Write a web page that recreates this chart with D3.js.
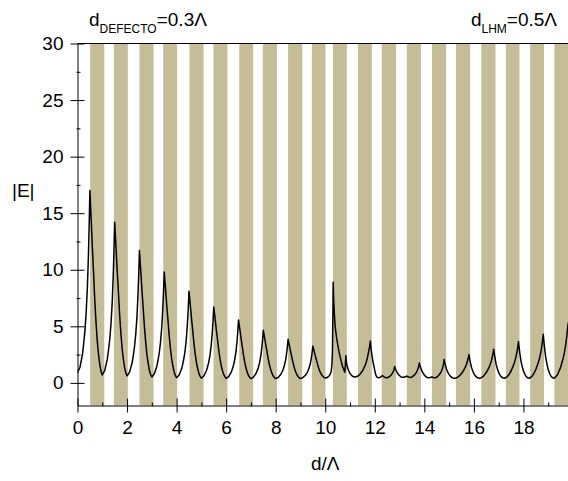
<!DOCTYPE html>
<html>
<head>
<meta charset="utf-8">
<script src="https://cdn.jsdelivr.net/npm/d3@7/dist/d3.min.js"></script>
<style>
  html, body { margin: 0; padding: 0; background: #fff; overflow: hidden; }
  svg { display: block; font-family: "Liberation Sans", Arial, Helvetica, sans-serif; }
</style>
</head>
<body>
<svg id="chart" width="568" height="481"></svg>
<script>
// ---- data ---------------------------------------------------------------
const xTicks = [0, 2, 4, 6, 8, 10, 12, 14, 16, 18];
const xMinorTicks = [1, 3, 5, 7, 9, 11, 13, 15, 17, 19];
const yTicks = [0, 5, 10, 15, 20, 25, 30];
const yMinorTicks = [2.5, 7.5, 12.5, 17.5, 22.5, 27.5];

// LHM layers (in units of the period Λ); a 0.3Λ defect shifts the stack after x≈10
const layerStart = [0.51, 1.47, 2.50, 3.46, 4.52, 5.49, 6.53, 7.48, 8.50, 9.46,
                    10.31, 11.32, 12.28, 13.29, 14.31, 15.28, 16.30, 17.29, 18.27, 19.25];
const layerEnd   = [1.08, 2.03, 3.07, 4.02, 5.09, 6.05, 7.09, 8.05, 9.07, 10.01,
                    10.87, 11.88, 12.86, 13.86, 14.88, 15.85, 16.87, 17.84, 18.83, 19.82];

// |E| along the structure, before the defect  [d/Λ, |E|]
const fieldBefore = [
  [0,0.9],[0.1,1.38],[0.2,2.51],[0.25,3.48],[0.3,4.6],[0.35,6.21],[0.4,8.47],[0.44,11.2],[0.47,13.78],[0.5,17.0],
  [0.53,15.53],[0.56,14.07],[0.6,11.95],[0.65,9.67],[0.7,7.22],[0.75,5.26],[0.8,3.63],[0.85,2.49],[0.9,1.6],[0.95,1.03],[1.0,0.7],
  [1.1,1.11],[1.2,2.05],[1.25,2.86],[1.3,3.81],[1.35,5.16],[1.4,7.05],[1.44,9.34],[1.47,11.5],[1.5,14.2],
  [1.53,12.98],[1.56,11.76],[1.6,9.99],[1.65,8.09],[1.7,6.05],[1.75,4.42],[1.8,3.06],[1.85,2.11],[1.9,1.37],[1.95,0.89],[2.0,0.62],
  [2.1,0.95],[2.2,1.73],[2.25,2.39],[2.3,3.17],[2.35,4.28],[2.4,5.83],[2.44,7.71],[2.47,9.48],[2.5,11.7],
  [2.53,10.69],[2.56,9.69],[2.6,8.23],[2.65,6.67],[2.7,4.99],[2.75,3.65],[2.8,2.53],[2.85,1.75],[2.9,1.13],[2.95,0.74],[3.0,0.52],
  [3.1,0.8],[3.2,1.45],[3.25,2.0],[3.3,2.65],[3.35,3.58],[3.4,4.88],[3.44,6.46],[3.47,7.94],[3.5,9.8],
  [3.53,8.96],[3.56,8.12],[3.6,6.9],[3.65,5.6],[3.7,4.2],[3.75,3.08],[3.8,2.14],[3.85,1.49],[3.9,0.97],[3.95,0.65],[4.0,0.46],
  [4.1,0.69],[4.2,1.22],[4.25,1.68],[4.3,2.22],[4.35,2.98],[4.4,4.05],[4.44,5.35],[4.47,6.57],[4.5,8.1],
  [4.53,7.41],[4.56,6.72],[4.6,5.72],[4.65,4.64],[4.7,3.49],[4.75,2.57],[4.8,1.8],[4.85,1.26],[4.9,0.84],[4.95,0.57],[5.0,0.42],
  [5.1,0.61],[5.2,1.05],[5.25,1.42],[5.3,1.86],[5.35,2.49],[5.4,3.37],[5.44,4.44],[5.47,5.44],[5.5,6.7],
  [5.53,6.13],[5.56,5.57],[5.6,4.75],[5.65,3.87],[5.7,2.92],[5.75,2.16],[5.8,1.53],[5.85,1.09],[5.9,0.75],[5.95,0.53],[6.0,0.4],
  [6.1,0.55],[6.2,0.92],[6.25,1.22],[6.3,1.58],[6.35,2.1],[6.4,2.82],[6.44,3.7],[6.47,4.52],[6.5,5.55],
  [6.53,5.08],[6.56,4.62],[6.6,3.95],[6.65,3.22],[6.7,2.45],[6.75,1.83],[6.8,1.31],[6.85,0.95],[6.9,0.66],[6.95,0.48],[7.0,0.38],
  [7.1,0.51],[7.2,0.81],[7.25,1.06],[7.3,1.36],[7.35,1.79],[7.4,2.39],[7.44,3.11],[7.47,3.8],[7.5,4.65],
  [7.53,4.27],[7.56,3.88],[7.6,3.33],[7.65,2.73],[7.7,2.09],[7.75,1.58],[7.8,1.15],[7.85,0.85],[7.9,0.61],[7.95,0.47],[8.0,0.38],
  [8.1,0.48],[8.2,0.73],[8.25,0.94],[8.3,1.18],[8.35,1.53],[8.4,2.01],[8.44,2.6],[8.47,3.16],[8.5,3.85],
  [8.53,3.54],[8.56,3.23],[8.6,2.77],[8.65,2.29],[8.7,1.77],[8.75,1.35],[8.8,1.0],[8.85,0.76],[8.9,0.57],[8.95,0.45],[9.0,0.38],
  [9.1,0.47],[9.2,0.67],[9.25,0.84],[9.3,1.04],[9.35,1.33],[9.4,1.73],[9.44,2.22],[9.47,2.68],[9.5,3.25],
  [9.53,3.0],[9.56,2.74],[9.6,2.37],[9.65,1.98],[9.7,1.55],[9.75,1.21],[9.8,0.93],[9.85,0.73],[9.9,0.58],[9.95,0.48],[10.0,0.44],
  [10.08,0.48],[10.15,0.6],[10.2,0.76],[10.24,1.0],[10.27,1.6],[10.29,2.8],[10.305,5.3],[10.32,8.9]
];

// |E| from the defect onwards  [d/Λ, |E|]
const fieldAfter = [
  [10.34,7.4],[10.37,6.0],[10.4,5.0],[10.45,4.1],[10.5,3.4],[10.55,2.8],[10.6,2.3],[10.65,1.85],[10.7,1.45],[10.75,1.15],[10.79,0.95],[10.81,1.5],[10.83,2.4],
  [10.86,1.75],[10.9,1.35],[10.95,1.05],[11.0,0.82],[11.07,0.64],[11.14,0.54],[11.22,0.52],[11.3,0.58],[11.4,0.75],[11.5,1.05],[11.6,1.5],[11.65,1.8],[11.7,2.2],[11.75,2.75],[11.79,3.2],[11.82,3.7],
  [11.84,3.2],[11.87,2.65],[11.9,2.2],[11.95,1.6],[12.0,1.08],[12.04,0.72],[12.08,0.52],[12.14,0.46],[12.2,0.48],[12.26,0.55],[12.31,0.65],[12.36,0.56],[12.42,0.48],[12.48,0.46],
  [12.55,0.5],[12.62,0.6],[12.68,0.75],[12.73,0.92],[12.77,1.12],[12.8,1.45],
  [12.83,1.25],[12.87,1.05],[12.92,0.85],[12.98,0.68],[13.04,0.56],[13.1,0.49],[13.17,0.49],[13.24,0.54],[13.29,0.6],[13.34,0.54],[13.4,0.49],[13.46,0.48],
  [13.52,0.55],[13.58,0.66],[13.64,0.8],[13.69,0.98],[13.73,1.18],[13.77,1.42],[13.8,1.75],
  [13.82,1.57],[13.85,1.35],[13.9,1.06],[13.95,0.86],[14.0,0.7],[14.05,0.57],[14.1,0.48],[14.17,0.45],[14.24,0.47],[14.3,0.52],[14.36,0.47],[14.42,0.45],
  [14.48,0.48],[14.55,0.6],[14.62,0.78],[14.67,0.96],[14.72,1.2],[14.76,1.5],[14.78,1.75],[14.8,2.07],
  [14.82,1.85],[14.85,1.57],[14.9,1.18],[14.95,0.93],[15.0,0.73],[15.05,0.6],[15.1,0.5],[15.15,0.44],[15.24,0.4],
  [15.35,0.51],[15.4,0.59],[15.5,0.82],[15.6,1.16],[15.65,1.37],[15.7,1.64],[15.75,2.0],[15.78,2.29],[15.8,2.5],
  [15.82,2.23],[15.85,1.87],[15.9,1.39],[15.95,1.07],[16.0,0.82],[16.05,0.65],[16.1,0.53],[16.15,0.45],[16.24,0.4],
  [16.35,0.53],[16.4,0.63],[16.5,0.91],[16.6,1.33],[16.65,1.58],[16.7,1.92],[16.75,2.35],[16.78,2.71],[16.8,2.97],
  [16.82,2.64],[16.85,2.2],[16.9,1.61],[16.95,1.22],[17.0,0.91],[17.05,0.71],[17.1,0.55],[17.15,0.46],[17.24,0.4],
  [17.35,0.56],[17.4,0.69],[17.5,1.05],[17.6,1.57],[17.65,1.9],[17.7,2.32],[17.75,2.87],[17.78,3.33],[17.8,3.65],
  [17.82,3.23],[17.85,2.68],[17.9,1.93],[17.95,1.44],[18.0,1.05],[18.05,0.79],[18.1,0.6],[18.15,0.48],[18.24,0.4],
  [18.35,0.6],[18.4,0.75],[18.5,1.18],[18.6,1.8],[18.65,2.19],[18.7,2.7],[18.75,3.36],[18.78,3.91],[18.8,4.3],
  [18.82,3.79],[18.85,3.13],[18.9,2.23],[18.95,1.65],[19.0,1.18],[19.05,0.87],[19.1,0.63],[19.15,0.5],[19.24,0.4],
  [19.35,0.65],[19.4,0.84],[19.5,1.38],[19.6,2.16],[19.65,2.65],[19.7,3.29],[19.75,4.12],[19.78,4.81],[19.81,5.3],
  [19.84,4.6],[19.9,3.2],[20.0,1.8]
];

// ---- layout -------------------------------------------------------------
const svg = d3.select('#chart');
const FONT = 19;

const x = d3.scaleLinear().domain([0, 20]).range([77.5, 573]);
const y = d3.scaleLinear().domain([-2, 30]).range([405.5, 43.5]);

const [xL, xR] = x.range();
const [yB, yT] = y.range();

svg.append('defs').append('clipPath').attr('id', 'plotClip')
  .append('rect')
  .attr('x', xL).attr('y', yT)
  .attr('width', xR - xL).attr('height', yB - yT);

const plot = svg.append('g').attr('clip-path', 'url(#plotClip)');

// LHM layers
plot.selectAll('rect.layer')
  .data(layerStart.map((s, i) => [s, layerEnd[i]]))
  .join('rect')
  .attr('class', 'layer')
  .attr('x', d => x(d[0]))
  .attr('width', d => x(d[1]) - x(d[0]))
  .attr('y', y(30))
  .attr('height', y(-2) - y(30))
  .attr('fill', '#c4bd98');

// field profile
const line = d3.line().x(d => x(d[0])).y(d => y(d[1])).curve(d3.curveLinear);
plot.append('path')
  .datum(fieldBefore.concat(fieldAfter))
  .attr('d', line)
  .attr('fill', 'none')
  .attr('stroke', '#000')
  .attr('stroke-width', 1.5)
  .attr('stroke-linejoin', 'round');

// top frame
svg.append('line')
  .attr('x1', xL).attr('x2', xR)
  .attr('y1', yT).attr('y2', yT)
  .attr('stroke', '#000').attr('stroke-width', 1);

// ---- axes ---------------------------------------------------------------
function styleAxis(g) {
  g.select('.domain').attr('stroke', '#000').attr('stroke-width', 1);
  g.selectAll('.tick line').attr('stroke', '#000').attr('stroke-width', 1);
  g.selectAll('.tick text').attr('fill', '#000')
    .style('font-size', FONT + 'px')
    .style('font-family', '"Liberation Sans", Arial, sans-serif');
}

// left axis: major ticks cross the axis line
const gy = svg.append('g')
  .attr('transform', `translate(${xL},0)`)
  .call(d3.axisLeft(y).tickValues(yTicks).tickSize(7).tickPadding(7).tickSizeOuter(0));
gy.selectAll('.tick line').attr('x1', 7).attr('x2', -7);
styleAxis(gy);

const gyMinor = svg.append('g')
  .attr('transform', `translate(${xL},0)`)
  .call(d3.axisLeft(y).tickValues(yMinorTicks).tickFormat('').tickSize(3).tickSizeOuter(0));
gyMinor.select('.domain').remove();
gyMinor.selectAll('.tick line').attr('x1', 3).attr('x2', -1).attr('stroke', '#000');

// bottom axis
const gx = svg.append('g')
  .attr('transform', `translate(0,${yB})`)
  .call(d3.axisBottom(x).tickValues(xTicks).tickSize(7).tickPadding(8).tickSizeOuter(0));
gx.selectAll('.tick line').attr('y1', -7).attr('y2', 7);
styleAxis(gx);

const gxMinor = svg.append('g')
  .attr('transform', `translate(0,${yB})`)
  .call(d3.axisBottom(x).tickValues(xMinorTicks).tickFormat('').tickSize(3).tickSizeOuter(0));
gxMinor.select('.domain').remove();
gxMinor.selectAll('.tick line').attr('y1', -3).attr('y2', 1).attr('stroke', '#000');

// ---- titles -------------------------------------------------------------
svg.append('text')
  .attr('x', 12).attr('y', 197)
  .style('font-size', FONT + 'px')
  .text('|E|');

svg.append('text')
  .attr('x', (xL + xR) / 2).attr('y', 470)
  .attr('text-anchor', 'middle')
  .style('font-size', FONT + 'px')
  .text('d/Λ');

function subLabel(tx, ty, anchor, main, sub, rest) {
  const t = svg.append('text')
    .attr('x', tx).attr('y', ty)
    .attr('text-anchor', anchor)
    .style('font-size', FONT + 'px');
  t.append('tspan').text(main);
  t.append('tspan').attr('dy', 7).style('font-size', '12px').text(sub);
  t.append('tspan').attr('dy', -7).text(rest);
}
subLabel(89, 26, 'start', 'd', 'DEFECTO', '=0.3Λ');
subLabel(557, 26, 'end', 'd', 'LHM', '=0.5Λ');
</script>
</body>
</html>
